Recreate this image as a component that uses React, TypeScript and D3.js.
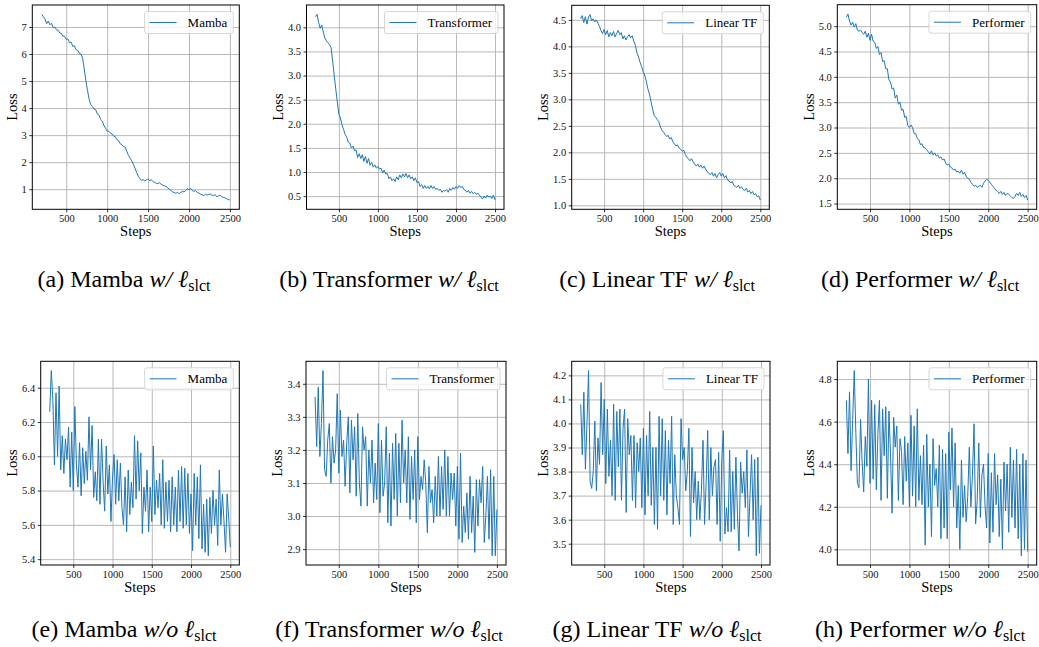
import React, { useEffect, useRef } from 'react';
import * as d3 from 'd3';

// training steps logged every 20 steps
const steps = d3.range(200, 2501, 20);

// with l_slct
const mambaSlct = [
  7.47, 7.38, 7.30, 7.12, 7.22, 7.08, 7.14, 6.98, 7.00, 6.90,
  6.88, 6.78, 6.76, 6.66, 6.66, 6.54, 6.56, 6.42, 6.44, 6.28,
  6.30, 6.16, 6.14, 6.02, 6.00, 5.85, 5.45, 5.00, 4.65, 4.32,
  4.12, 4.06, 3.96, 3.94, 3.78, 3.74, 3.58, 3.52, 3.36, 3.26,
  3.15, 3.14, 3.08, 3.04, 2.96, 2.94, 2.83, 2.80, 2.68, 2.64,
  2.58, 2.56, 2.40, 2.25, 2.15, 2.05, 1.92, 1.78, 1.62, 1.48,
  1.40, 1.32, 1.36, 1.30, 1.35, 1.38, 1.32, 1.35, 1.28, 1.25,
  1.22, 1.20, 1.24, 1.18, 1.15, 1.12, 1.10, 1.05, 1.00, 0.95,
  0.90, 0.88, 0.85, 0.88, 0.84, 0.88, 0.92, 0.90, 0.95, 1.02,
  0.98, 1.03, 0.95, 0.92, 0.95, 0.88, 0.86, 0.82, 0.80, 0.76,
  0.82, 0.78, 0.80, 0.82, 0.78, 0.76, 0.80, 0.72, 0.75, 0.78,
  0.72, 0.70, 0.68, 0.65, 0.62, 0.60,
];
const transformerSlct = [
  4.22, 4.27, 4.10, 3.98, 4.05, 3.90, 3.78, 3.72, 3.68, 3.64,
  3.58, 3.30, 3.00, 2.72, 2.45, 2.20, 2.12, 1.98, 1.88, 1.78,
  1.72, 1.62, 1.60, 1.50, 1.54, 1.44, 1.46, 1.30, 1.38, 1.28,
  1.36, 1.22, 1.32, 1.18, 1.28, 1.14, 1.20, 1.10, 1.15, 1.08,
  1.12, 1.06, 1.08, 0.98, 1.04, 0.96, 0.97, 0.86, 0.90, 0.82,
  0.86, 0.80, 0.90, 0.84, 0.94, 0.88, 0.96, 0.90, 0.97, 0.88,
  0.94, 0.86, 0.90, 0.82, 0.88, 0.78, 0.80, 0.70, 0.74, 0.66,
  0.72, 0.66, 0.70, 0.65, 0.72, 0.66, 0.70, 0.64, 0.66, 0.62,
  0.64, 0.58, 0.62, 0.60, 0.64, 0.58, 0.66, 0.62, 0.68, 0.64,
  0.70, 0.66, 0.72, 0.68, 0.70, 0.64, 0.62, 0.58, 0.62, 0.56,
  0.60, 0.55, 0.58, 0.54, 0.56, 0.52, 0.48, 0.44, 0.50, 0.46,
  0.52, 0.48, 0.50, 0.45, 0.52, 0.42,
];
const linearSlct = [
  4.52, 4.58, 4.45, 4.56, 4.42, 4.55, 4.60, 4.48, 4.52, 4.46,
  4.50, 4.44, 4.38, 4.30, 4.24, 4.32, 4.22, 4.30, 4.18, 4.26,
  4.20, 4.28, 4.18, 4.24, 4.30, 4.22, 4.26, 4.14, 4.20, 4.12,
  4.18, 4.22, 4.16, 4.20, 4.10, 4.02, 3.88, 3.80, 3.70, 3.62,
  3.52, 3.46, 3.34, 3.20, 3.10, 2.96, 2.82, 2.70, 2.66, 2.62,
  2.58, 2.48, 2.42, 2.38, 2.34, 2.30, 2.32, 2.25, 2.28, 2.20,
  2.16, 2.12, 2.14, 2.08, 2.06, 2.02, 2.04, 1.96, 1.90, 1.88,
  1.84, 1.88, 1.82, 1.78, 1.74, 1.78, 1.72, 1.76, 1.70, 1.74,
  1.68, 1.64, 1.60, 1.58, 1.62, 1.55, 1.60, 1.52, 1.58, 1.62,
  1.55, 1.60, 1.52, 1.56, 1.48, 1.46, 1.42, 1.45, 1.38, 1.36,
  1.34, 1.38, 1.32, 1.35, 1.30, 1.28, 1.32, 1.25, 1.28, 1.22,
  1.26, 1.20, 1.22, 1.16, 1.18, 1.10,
];
const performerSlct = [
  5.18, 5.24, 5.10, 5.02, 5.08, 4.98, 5.05, 4.92, 4.90, 4.92,
  4.88, 4.84, 4.90, 4.78, 4.86, 4.72, 4.84, 4.70, 4.68, 4.56,
  4.60, 4.44, 4.48, 4.30, 4.32, 4.16, 4.16, 3.94, 3.90, 3.76,
  3.78, 3.58, 3.64, 3.46, 3.50, 3.34, 3.36, 3.20, 3.22, 3.04,
  3.00, 3.05, 3.00, 2.88, 2.88, 2.78, 2.76, 2.66, 2.68, 2.60,
  2.60, 2.56, 2.52, 2.48, 2.54, 2.46, 2.50, 2.44, 2.46, 2.40,
  2.42, 2.36, 2.38, 2.30, 2.26, 2.28, 2.22, 2.20, 2.16, 2.18,
  2.12, 2.14, 2.10, 2.16, 2.08, 2.12, 2.04, 2.00, 1.98, 1.92,
  1.88, 1.84, 1.86, 1.82, 1.84, 1.86, 1.82, 1.90, 1.94, 1.98,
  1.96, 1.92, 1.88, 1.84, 1.80, 1.76, 1.74, 1.70, 1.74, 1.68,
  1.72, 1.66, 1.70, 1.68, 1.65, 1.62, 1.60, 1.64, 1.70, 1.66,
  1.72, 1.64, 1.68, 1.62, 1.66, 1.57,
];

// without l_slct
const mambaNoSlct = [
  6.26, 6.50, 6.33, 5.95, 6.37, 6.00, 6.41, 5.92, 6.12, 5.90,
  6.10, 5.98, 6.17, 5.82, 6.14, 5.80, 6.29, 5.95, 5.82, 6.08,
  5.77, 6.05, 5.84, 6.03, 5.86, 6.23, 5.92, 6.18, 5.76, 5.91,
  5.74, 6.10, 5.72, 6.10, 5.85, 5.68, 6.06, 5.78, 5.95, 5.62,
  5.88, 6.01, 5.72, 5.98, 5.74, 5.96, 5.70, 5.60, 5.88, 5.56,
  5.92, 5.66, 5.85, 5.70, 6.12, 5.75, 6.09, 5.80, 6.02, 5.55,
  5.82, 5.68, 5.92, 5.56, 5.82, 5.62, 6.06, 5.66, 5.86, 5.70,
  5.90, 5.60, 5.98, 5.58, 5.85, 5.62, 5.86, 5.56, 5.88, 5.60,
  5.82, 5.56, 5.92, 5.62, 5.94, 5.58, 5.93, 5.60, 5.90, 5.55,
  5.78, 5.45, 5.90, 5.60, 5.88, 5.52, 5.95, 5.46, 5.72, 5.44,
  5.75, 5.42, 5.76, 5.55, 5.80, 5.60, 5.75, 5.48, 5.92, 5.60,
  5.78, 5.62, 5.44, 5.78, 5.64, 5.47,
];
const transformerNoSlct = [
  3.36, 3.21, 3.39, 3.18, 3.28, 3.44, 3.14, 3.12, 3.23, 3.28,
  3.10, 3.24, 3.16, 3.20, 3.37, 3.13, 3.32, 3.18, 3.23, 3.09,
  3.22, 3.30, 3.07, 3.29, 3.17, 3.27, 3.06, 3.31, 3.10, 3.03,
  3.27, 3.20, 3.24, 3.03, 3.20, 3.10, 3.23, 3.04, 3.16, 3.05,
  3.28, 3.01, 3.23, 3.06, 3.10, 3.27, 2.98, 3.19, 2.97, 3.22,
  3.05, 3.25, 3.00, 3.22, 3.04, 3.29, 3.10, 3.20, 3.04, 3.24,
  2.99, 3.18, 3.05, 3.20, 2.98, 3.24, 3.05, 3.12, 3.08, 3.17,
  3.10, 2.95, 3.15, 3.04, 3.08, 2.98, 3.12, 3.00, 3.18, 3.00,
  3.15, 3.02, 3.20, 3.00, 3.18, 3.00, 3.13, 3.05, 3.13, 2.97,
  3.15, 2.93, 3.19, 2.92, 3.03, 2.95, 3.07, 2.93, 3.12, 2.95,
  3.06, 2.89, 3.11, 2.97, 3.11, 3.04, 3.15, 2.92, 3.00, 3.12,
  2.93, 3.14, 2.88, 3.12, 2.88, 3.02,
];
const linearNoSlct = [
  4.08, 3.87, 4.13, 3.81, 4.00, 4.22, 3.76, 3.73, 3.80, 4.01,
  3.72, 3.94, 3.83, 4.17, 3.87, 4.10, 3.75, 4.06, 3.78, 3.93,
  3.70, 4.08, 3.68, 4.05, 3.82, 4.06, 3.68, 3.98, 4.06, 3.63,
  4.02, 3.87, 3.95, 3.68, 3.95, 3.65, 3.92, 3.80, 3.94, 3.65,
  3.98, 3.62, 3.95, 3.70, 4.05, 3.66, 3.90, 3.58, 3.90, 3.56,
  4.03, 3.70, 4.02, 3.68, 3.97, 3.62, 3.93, 3.75, 4.03, 3.58,
  3.87, 3.70, 3.65, 3.58, 4.02, 3.85, 3.90, 3.72, 3.80, 3.98,
  3.53, 3.90, 3.67, 3.80, 3.60, 3.76, 3.60, 3.72, 3.93, 3.58,
  3.75, 3.97, 3.60, 3.90, 3.70, 3.82, 3.85, 3.58, 3.88, 3.51,
  3.85, 3.97, 3.54, 3.65, 3.55, 3.89, 3.55, 3.80, 3.56, 3.86,
  3.62, 3.47, 3.84, 3.71, 3.80, 3.65, 3.89, 3.53, 3.70, 3.87,
  3.60, 3.85, 3.45, 3.86, 3.46, 3.66,
];
const performerNoSlct = [
  4.70, 4.45, 4.74, 4.37, 4.61, 4.84, 4.55, 4.31, 4.29, 4.61,
  4.41, 4.27, 4.53, 4.39, 4.80, 4.31, 4.70, 4.33, 4.68, 4.28,
  4.54, 4.70, 4.23, 4.66, 4.44, 4.67, 4.24, 4.65, 4.45, 4.17,
  4.62, 4.48, 4.58, 4.23, 4.52, 4.46, 4.21, 4.53, 4.32, 4.50,
  4.20, 4.63, 4.25, 4.58, 4.20, 4.66, 4.23, 4.44, 4.21, 4.49,
  4.02, 4.54, 4.20, 4.40, 4.06, 4.52, 4.30, 4.38, 4.20, 4.49,
  4.05, 4.47, 4.10, 4.45, 4.05, 4.55, 4.28, 4.57, 4.20, 4.50,
  4.10, 4.30, 4.00, 4.42, 4.15, 4.30, 4.13, 4.25, 4.48, 4.20,
  4.35, 4.59, 4.12, 4.23, 4.50, 4.15, 4.35, 4.40, 4.20, 4.10,
  4.45, 4.03, 4.36, 4.08, 4.45, 4.21, 4.35, 4.06, 4.33, 4.00,
  4.41, 4.18, 4.40, 4.08, 4.48, 4.15, 4.42, 4.10, 4.47, 4.05,
  4.40, 3.97, 4.45, 4.00, 4.42, 3.99,
];

const xTicks = [500, 1000, 1500, 2000, 2500];
const ticksMambaSlct = [1, 2, 3, 4, 5, 6, 7];
const ticksTransformerSlct = [0.5, 1.0, 1.5, 2.0, 2.5, 3.0, 3.5, 4.0];
const ticksLinearSlct = [1.0, 1.5, 2.0, 2.5, 3.0, 3.5, 4.0, 4.5];
const ticksPerformerSlct = [1.5, 2.0, 2.5, 3.0, 3.5, 4.0, 4.5, 5.0];
const ticksMambaNoSlct = [5.4, 5.6, 5.8, 6.0, 6.2, 6.4];
const ticksTransformerNoSlct = [2.9, 3.0, 3.1, 3.2, 3.3, 3.4];
const ticksLinearNoSlct = [3.5, 3.6, 3.7, 3.8, 3.9, 4.0, 4.1, 4.2];
const ticksPerformerNoSlct = [4.0, 4.2, 4.4, 4.6, 4.8];

const panels = [
  { letter: 'a', model: 'Mamba', tag: 'w/', values: mambaSlct, yTicks: ticksMambaSlct, fmt: 'd' },
  { letter: 'b', model: 'Transformer', tag: 'w/', values: transformerSlct, yTicks: ticksTransformerSlct, fmt: '.1f' },
  { letter: 'c', model: 'Linear TF', tag: 'w/', values: linearSlct, yTicks: ticksLinearSlct, fmt: '.1f' },
  { letter: 'd', model: 'Performer', tag: 'w/', values: performerSlct, yTicks: ticksPerformerSlct, fmt: '.1f' },
  { letter: 'e', model: 'Mamba', tag: 'w/o', values: mambaNoSlct, yTicks: ticksMambaNoSlct, fmt: '.1f' },
  { letter: 'f', model: 'Transformer', tag: 'w/o', values: transformerNoSlct, yTicks: ticksTransformerNoSlct, fmt: '.1f' },
  { letter: 'g', model: 'Linear TF', tag: 'w/o', values: linearNoSlct, yTicks: ticksLinearNoSlct, fmt: '.1f' },
  { letter: 'h', model: 'Performer', tag: 'w/o', values: performerNoSlct, yTicks: ticksPerformerNoSlct, fmt: '.1f' },
];

const frames = [
  [32.3, 239.3, 5, 209.3],
  [306.5, 504, 5, 209.3],
  [571.7, 769.3, 5.3, 209.3],
  [837.3, 1036.7, 4.7, 209.3],
  [40.7, 239.3, 361.3, 565],
  [306, 506, 361.3, 565],
  [571.7, 770, 361.3, 565],
  [837.3, 1036.7, 361.3, 565],
];
const captionX = [124, 389, 657, 920];
const captionY = [287, 637];

const W = 1039;
const H = 647;
const SERIF = '"Liberation Serif", "Times New Roman", "DejaVu Serif", serif';
const BLUE = '#1f77b4';

export default function App() {
  const svgRef = useRef<SVGSVGElement>(null);

  useEffect(() => {
    const svg = d3.select(svgRef.current);
    svg.selectAll('*').remove();

    panels.forEach((p, i) => {
      const [left, right, top, bottom] = frames[i];
      const [sx0, sx1] = d3.extent(steps) as [number, number];
      const xp = (sx1 - sx0) * 0.05;
      const x = d3.scaleLinear().domain([sx0 - xp, sx1 + xp]).range([left, right]);
      const [vy0, vy1] = d3.extent(p.values) as [number, number];
      const yp = (vy1 - vy0) * 0.05;
      const y = d3.scaleLinear().domain([vy0 - yp, vy1 + yp]).range([bottom, top]);

      const g = svg.append('g');

      // grid
      g.append('g')
        .attr('transform', `translate(0,${bottom})`)
        .call(d3.axisBottom(x).tickValues(xTicks).tickSize(-(bottom - top)).tickFormat(() => ''))
        .call(s => s.select('.domain').remove())
        .call(s => s.selectAll('line').attr('stroke', '#b0b0b0').attr('stroke-width', 0.9));
      g.append('g')
        .attr('transform', `translate(${left},0)`)
        .call(d3.axisLeft(y).tickValues(p.yTicks).tickSize(-(right - left)).tickFormat(() => ''))
        .call(s => s.select('.domain').remove())
        .call(s => s.selectAll('line').attr('stroke', '#b0b0b0').attr('stroke-width', 0.9));

      // loss curve
      const line = d3.line<number>().x((d, k) => x(steps[k])).y(d => y(d));
      g.append('path')
        .datum(p.values)
        .attr('d', line)
        .attr('fill', 'none')
        .attr('stroke', BLUE)
        .attr('stroke-width', 1)
        .attr('stroke-linejoin', 'round');

      // ticks + labels
      const xa = g.append('g')
        .attr('transform', `translate(0,${bottom})`)
        .call(d3.axisBottom(x).tickValues(xTicks).tickSize(3).tickPadding(2.2).tickFormat(d3.format('d')));
      const ya = g.append('g')
        .attr('transform', `translate(${left},0)`)
        .call(d3.axisLeft(y).tickValues(p.yTicks).tickSize(3).tickPadding(2.5).tickFormat(d3.format(p.fmt)));
      [xa, ya].forEach(a => {
        a.select('.domain').remove();
        a.selectAll('line').attr('stroke', '#000').attr('stroke-width', 0.8);
        a.selectAll('text').attr('font-family', SERIF).attr('font-size', 10.5).attr('fill', '#111');
      });

      // spines
      g.append('rect')
        .attr('x', left).attr('y', top)
        .attr('width', right - left).attr('height', bottom - top)
        .attr('fill', 'none').attr('stroke', '#000').attr('stroke-width', 1);

      // axis titles
      let tw = 0;
      ya.selectAll<SVGTextElement, unknown>('text').each(function () {
        tw = Math.max(tw, this.getComputedTextLength());
      });
      const lx = left - 15 - tw + 4.5;
      g.append('text')
        .attr('transform', `translate(${lx},${(top + bottom) / 2}) rotate(-90)`)
        .attr('text-anchor', 'middle')
        .attr('font-family', SERIF).attr('font-size', 14.5)
        .text('Loss');
      g.append('text')
        .attr('x', (left + right) / 2).attr('y', bottom + 26.5)
        .attr('text-anchor', 'middle')
        .attr('font-family', SERIF).attr('font-size', 14.5)
        .text('Steps');

      // legend
      const lg = g.append('g');
      const box = lg.append('rect');
      lg.append('line').attr('x1', 0).attr('x2', 27).attr('y1', 0).attr('y2', 0)
        .attr('stroke', BLUE).attr('stroke-width', 1);
      const lt = lg.append('text').attr('x', 38).attr('y', 4.5)
        .attr('font-family', SERIF).attr('font-size', 13).text(p.model);
      const bw = 5 + 38 + (lt.node() as SVGTextElement).getComputedTextLength() + 6;
      const bx = right - 6 - bw;
      const by = top + 6.5;
      box.attr('x', -5).attr('y', -11).attr('width', bw).attr('height', 22).attr('rx', 2.5)
        .attr('fill', '#fff').attr('fill-opacity', 0.8).attr('stroke', '#d3d3d3').attr('stroke-width', 0.9);
      lg.attr('transform', `translate(${bx + 5},${by + 11})`);

      // caption
      const cap = svg.append('text')
        .attr('x', captionX[i % 4]).attr('y', captionY[Math.floor(i / 4)])
        .attr('text-anchor', 'middle')
        .attr('font-family', SERIF).attr('font-size', 24).attr('fill', '#000');
      cap.append('tspan').text(`(${p.letter}) ${p.model} `);
      cap.append('tspan').attr('font-style', 'italic').text(p.tag);
      cap.append('tspan').text(' ');
      cap.append('tspan').attr('font-style', 'italic').text('\u2113');
      cap.append('tspan').attr('font-size', 16).attr('dy', 4).text('slct');
    });
  }, []);

  return (
    <svg
      ref={svgRef}
      width={W}
      height={H}
      viewBox={`0 0 ${W} ${H}`}
      style={{ position: 'absolute', left: 0, top: 0, background: '#fff', display: 'block' }}
    />
  );
}
